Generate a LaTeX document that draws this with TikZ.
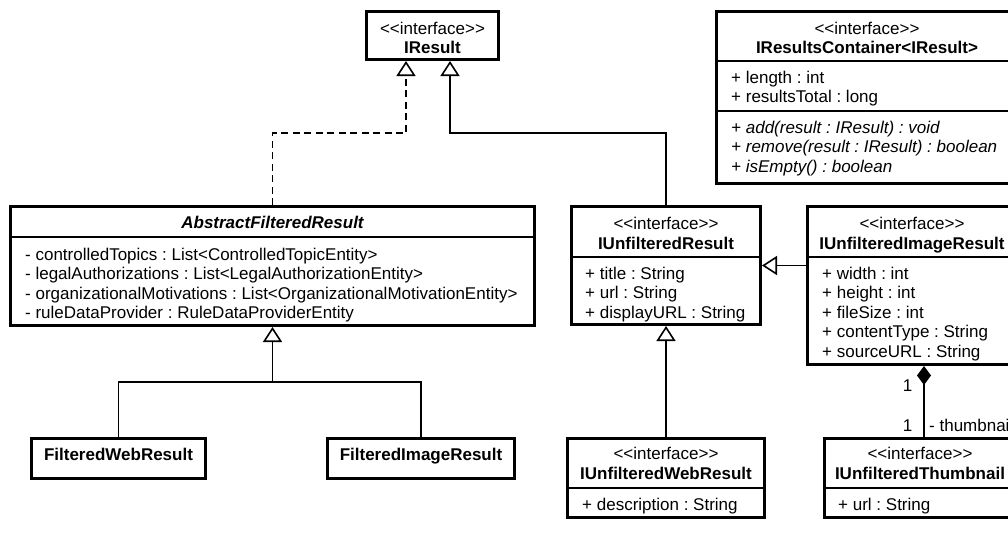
\documentclass[tikz,border=0pt]{standalone}
\usepackage{fontspec}
\setmainfont{Liberation Sans}[Ligatures=TeXOff]
\usetikzlibrary{arrows.meta,calc}
\begin{document}
\frenchspacing
\begin{tikzpicture}[x=1pt,y=-1pt,
  box/.style={draw, line width=3pt, rectangle, anchor=north west, inner sep=0pt},
  div/.style={line width=1.6pt},
  conn/.style={line width=1.6pt},
  gen/.style={conn, -{Triangle[open, width=19pt, length=15pt, line width=1.6pt]}},
  realize/.style={gen, dash pattern=on 7pt off 4.5pt},
  comp/.style={conn, -{Diamond[width=14pt, length=19pt]}},
  txt/.style={inner sep=0pt, font=\fontsize{17}{19.5}\selectfont\frenchspacing},
  stereo/.style={txt, anchor=base},
  cname/.style={txt, anchor=base, font=\fontsize{17}{19.5}\selectfont\bfseries},
  attr/.style={txt, anchor=base west},
  meth/.style={txt, anchor=base west, font=\fontsize{17}{19.5}\selectfont\frenchspacing\itshape}]
\useasboundingbox (0,0) rectangle (1008,555);
\fill[white] (0,0) rectangle (1008,555);
\clip (0,0) rectangle (1008,555);

% class boxes
\node[box, minimum width=132pt, minimum height=48pt] (ires) at (365,10) {};
\node[box, minimum width=301pt, minimum height=172pt] (cont) at (715,10) {};
\node[box, minimum width=524pt, minimum height=119pt] (afr) at (9,205) {};
\node[box, minimum width=189pt, minimum height=118pt] (iur) at (570,205) {};
\node[box, minimum width=209pt, minimum height=158pt] (iuir) at (806,205) {};
\node[box, minimum width=174pt, minimum height=40pt] (fwr) at (30,437) {};
\node[box, minimum width=187pt, minimum height=40pt] (fir) at (326,437) {};
\node[box, minimum width=197pt, minimum height=79pt] (iuwr) at (566,437) {};
\node[box, minimum width=191pt, minimum height=79pt] (thumb) at (823,437) {};

% compartment separators
\draw[div] (cont.west |- 0,61) -- (cont.east |- 0,61);
\draw[div] (cont.west |- 0,111) -- (cont.east |- 0,111);
\draw[div] (afr.west |- 0,237) -- (afr.east |- 0,237);
\draw[div] (iur.west |- 0,257) -- (iur.east |- 0,257);
\draw[div] (iuir.west |- 0,257) -- (iuir.east |- 0,257);
\draw[div] (iuwr.west |- 0,488) -- (iuwr.east |- 0,488);
\draw[div] (thumb.west |- 0,488) -- (thumb.east |- 0,488);

% IResult
\node[stereo] (ires-s) at (432.5,34) {<<interface>>};
\node[cname] (ires-n) at (432.5,53) {IResult};

% IResultsContainer
\node[stereo] (cont-s) at (867,34) {<<interface>>};
\node[cname] (cont-n) at (867,53) {IResultsContainer<IResult>};
\node[attr] (cont-a1) at (731,83) {+ length : int};
\node[attr] (cont-a2) at (731,102.5) {+ resultsTotal : long};
\node[meth] (cont-m1) at (731,133) {+ add(result : IResult) : void};
\node[meth] (cont-m2) at (731,152.5) {+ remove(result : IResult) : boolean};
\node[meth] (cont-m3) at (731,172) {+ isEmpty() : boolean};

% AbstractFilteredResult
\node[txt, anchor=base, font=\fontsize{17}{19.5}\selectfont\bfseries\itshape] (afr-n) at (272.5,228) {AbstractFilteredResult};
\node[attr] (afr-a1) at (25,260) {- controlledTopics : List<ControlledTopicEntity>};
\node[attr] (afr-a2) at (25,279.5) {- legalAuthorizations : List<LegalAuthorizationEntity>};
\node[attr] (afr-a3) at (25,299) {- organizationalMotivations : List<OrganizationalMotivationEntity>};
\node[attr] (afr-a4) at (25,318.5) {- ruleDataProvider : RuleDataProviderEntity};

% IUnfilteredResult
\node[stereo] (iur-s) at (666,229) {<<interface>>};
\node[cname] (iur-n) at (666,249) {IUnfilteredResult};
\node[attr] (iur-a1) at (585,279) {+ title : String};
\node[attr] (iur-a2) at (585,298.5) {+ url : String};
\node[attr] (iur-a3) at (585,318) {+ displayURL : String};

% IUnfilteredImageResult
\node[stereo] (iuir-s) at (912,229) {<<interface>>};
\node[cname] (iuir-n) at (912,249) {IUnfilteredImageResult};
\node[attr] (iuir-a1) at (822,279) {+ width : int};
\node[attr] (iuir-a2) at (822,298.5) {+ height : int};
\node[attr] (iuir-a3) at (822,318) {+ fileSize : int};
\node[attr] (iuir-a4) at (822,337.5) {+ contentType : String};
\node[attr] (iuir-a5) at (822,357) {+ sourceURL : String};

% concrete results
\node[cname] (fwr-n) at (118.5,460) {FilteredWebResult};
\node[cname] (fir-n) at (421,460) {FilteredImageResult};

% IUnfilteredWebResult
\node[stereo] (iuwr-s) at (666,459) {<<interface>>};
\node[cname] (iuwr-n) at (666,479) {IUnfilteredWebResult};
\node[attr] (iuwr-a1) at (582,510) {+ description : String};

% IUnfilteredThumbnail
\node[stereo] (thumb-s) at (920,459) {<<interface>>};
\node[cname] (thumb-n) at (920,479) {IUnfilteredThumbnail};
\node[attr] (thumb-a1) at (838,510) {+ url : String};

% bend points
\coordinate (j1) at (406,133);
\coordinate (j2) at (450,133);
\coordinate (j3) at (272.5,382);
\coordinate (cx) at (924,0);

% connectors
\draw[realize] (afr.north) |- (j1) -- (ires.south -| j1);
\draw[gen] (iur.north) |- (j2) -- (ires.south -| j2);
\draw[conn] (fwr.north) |- (j3) -| (fir.north);
\draw[gen] (j3) -- (afr.south);
\draw[gen] (iuwr.north) -- (iur.south);
\draw[gen] (iuir.west |- iur.east) -- (iur.east);
\draw[comp] (thumb.north -| cx) -- (iuir.south -| cx);

% association end labels
\node[txt, anchor=base] (m1) at (907.5,391) {1};
\node[txt, anchor=base] (m2) at (907.5,431) {1};
\node[attr] (role) at (929,431) {- thumbnail};
\end{tikzpicture}
\end{document}
